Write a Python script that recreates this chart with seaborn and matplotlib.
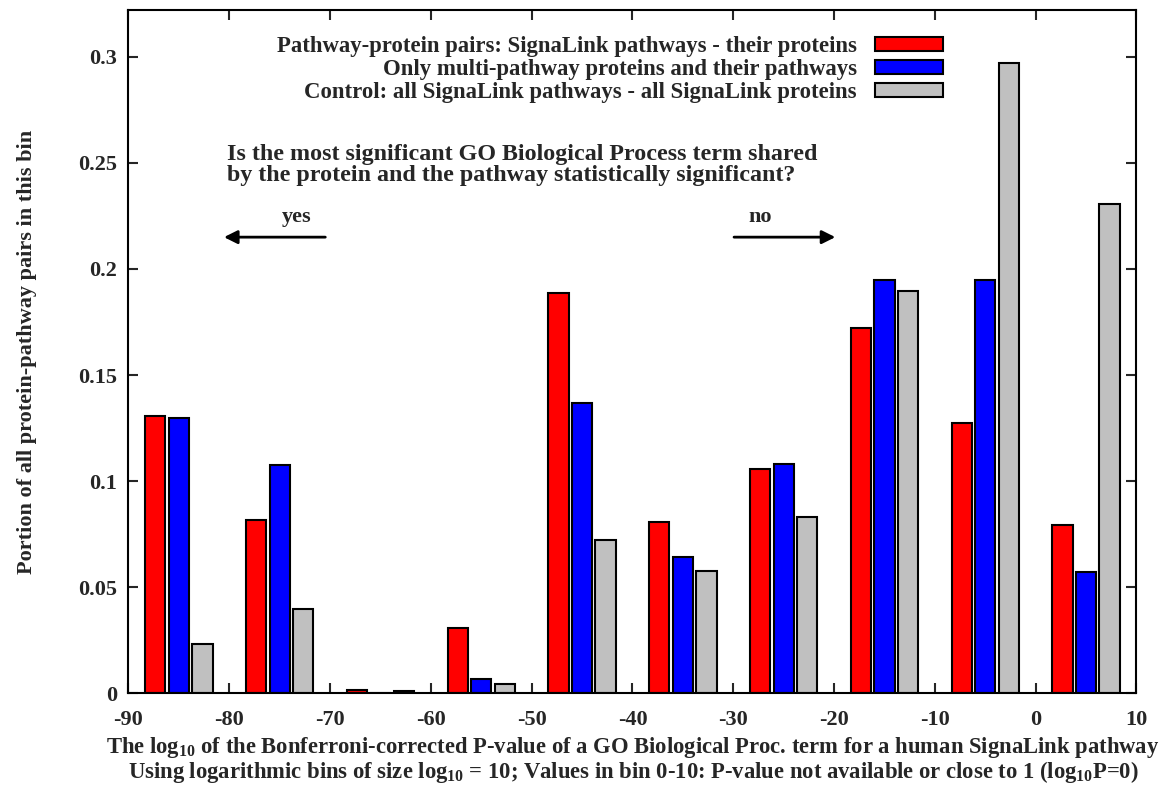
import pandas as pd
import matplotlib
matplotlib.use("Agg")
import matplotlib.pyplot as plt
import seaborn as sns

# bin centres of the log10 P-value bins (size 10)
bin_centres = [-85, -75, -65, -55, -45, -35, -25, -15, -5, 5]
series_names = [
    "Pathway-protein pairs: SignaLink pathways - their proteins",
    "Only multi-pathway proteins and their pathways",
    "Control: all SignaLink pathways - all SignaLink proteins",
]
pathway_pairs = [0.1307, 0.0815, 0.0017, 0.0308, 0.1888, 0.0808, 0.1057, 0.1720, 0.1275, 0.0792]
multi_pathway = [0.1295, 0.1075, 0.0, 0.0067, 0.1366, 0.0643, 0.1079, 0.1948, 0.1948, 0.0571]
control = [0.0231, 0.0395, 0.0012, 0.0043, 0.0722, 0.0575, 0.0832, 0.1896, 0.2970, 0.2307]
bar_colors = ["#ff0000", "#0000ff", "#c0c0c0"]

rows = []
for name, vals in zip(series_names, [pathway_pairs, multi_pathway, control]):
    for b, v in zip(bin_centres, vals):
        rows.append({"bin": b, "series": name, "value": v})
df = pd.DataFrame(rows)

sns.set_theme(style="ticks")
plt.rcParams["font.family"] = ["Liberation Serif", "DejaVu Serif"]
plt.rcParams["font.weight"] = "bold"
plt.rcParams["mathtext.fontset"] = "custom"
plt.rcParams["mathtext.rm"] = "Liberation Serif:bold"
plt.rcParams["mathtext.it"] = "Liberation Serif:bold"
plt.rcParams["mathtext.bf"] = "Liberation Serif:bold"
plt.rcParams["mathtext.default"] = "rm"

FS = 16

fig = plt.figure(figsize=(11.68, 7.85), dpi=100)
ax = fig.add_axes([0.110, 0.117, 0.863, 0.870])

sns.barplot(data=df, x="bin", y="value", hue="series", hue_order=series_names,
            palette=bar_colors, saturation=1, native_scale=True, width=0.7, gap=0.14,
            errorbar=None, edgecolor="black", linewidth=1.5, ax=ax)

ax.set_xlim(-90, 10)
ax.set_ylim(0, 0.322)
ax.set_xticks(range(-90, 11, 10))
ax.set_xticklabels([str(t) for t in range(-90, 11, 10)])
ax.set_yticks([0, 0.05, 0.1, 0.15, 0.2, 0.25, 0.3])
ax.set_yticklabels(["0", "0.05", "0.1", "0.15", "0.2", "0.25", "0.3"])
ax.tick_params(direction="in", length=7, width=1.5, labelsize=FS,
               top=True, right=True, pad=8)
ax.tick_params(axis="x", pad=12)
for s in ax.spines.values():
    s.set_visible(True)
    s.set_linewidth(1.5)
    s.set_color("black")

# two-line x label, placed line by line so the subscripts don't push it off the figure
ax.set_xlabel("")
fig.text(0.542, 1 - 747 / 785,
         "The log$_{10}$ of the Bonferroni-corrected P-value of a GO Biological Proc. term for a human SignaLink pathway",
         ha="center", va="center", fontsize=16.3, fontweight="bold")
fig.text(0.542, 1 - 772 / 785,
         "Using logarithmic bins of size log$_{10}$ = 10; Values in bin 0-10: P-value not available or close to 1 (log$_{10}$P=0)",
         ha="center", va="center", fontsize=16.3, fontweight="bold")
ax.set_ylabel("Portion of all protein-pathway pairs in this bin", fontsize=FS,
              fontweight="bold", labelpad=30)

handles, labels = ax.get_legend_handles_labels()
ax.legend(handles, labels, loc="upper right", bbox_to_anchor=(0.8085, 0.962),
          frameon=False, markerfirst=False, handlelength=3.0, handleheight=0.6,
          labelspacing=0.08, handletextpad=0.8, borderpad=0, borderaxespad=0,
          prop={"size": 16.4, "weight": "bold"})

ax.text(-80.2, 0.249, "Is the most significant GO Biological Process term shared\n"
        "by the protein and the pathway statistically significant?",
        ha="left", va="center", fontsize=17.3, fontweight="bold", linespacing=0.97)
ax.text(-73.3, 0.2245, "yes", ha="center", va="center", fontsize=FS, fontweight="bold")
ax.text(-27.3, 0.2245, "no", ha="center", va="center", fontsize=FS, fontweight="bold")
ax.annotate("", xy=(-80.8, 0.215), xytext=(-70.2, 0.215),
            arrowprops=dict(arrowstyle="-|>", color="black", lw=2, mutation_scale=20))
ax.annotate("", xy=(-19.6, 0.215), xytext=(-30.2, 0.215),
            arrowprops=dict(arrowstyle="-|>", color="black", lw=2, mutation_scale=20))

fig.savefig("out.png", dpi=100)
